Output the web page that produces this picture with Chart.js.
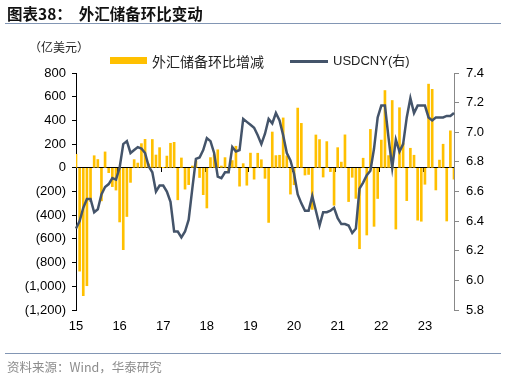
<!DOCTYPE html>
<html>
<head>
<meta charset="utf-8">
<script src="https://cdn.jsdelivr.net/npm/chart.js@4.4.0/dist/chart.umd.min.js"></script>
<style>
  body { margin:0; width:506px; height:377px; overflow:hidden; background:#fff; position:relative; font-family:"Noto Sans CJK SC","Liberation Sans",sans-serif; }
  #c { position:absolute; left:0; top:0; }
  .title { position:absolute; left:7px; top:2px; font-size:15.5px; font-weight:bold; color:#111; white-space:nowrap; }
  .rule { position:absolute; left:5px; width:496px; height:1px; background:#8296b4; }
  .unit { position:absolute; left:29px; top:38px; font-size:12px; color:#222; }
  .leg { position:absolute; top:52px; font-size:14px; color:#222; white-space:nowrap; line-height:18px; }
  .sw { position:absolute; }
  .src { position:absolute; left:7px; top:357px; font-size:12.5px; color:#8c8c8c; white-space:nowrap; }
</style>
</head>
<body>
<canvas id="c" width="506" height="377"></canvas>
<div class="title">图表38：&nbsp;&nbsp;外汇储备环比变动</div>
<div class="rule" style="top:23px"></div>
<div class="unit">（亿美元）</div>
<div class="sw" style="left:110px;top:57px;width:37px;height:7px;background:#ffc000"></div>
<div class="leg" style="left:152px">外汇储备环比增减</div>
<div class="sw" style="left:290px;top:60px;width:38px;height:3px;background:#44546a"></div>
<div class="leg" style="left:333px;font-size:13px;font-family:'Liberation Sans','Noto Sans CJK SC',sans-serif">USDCNY(右)</div>
<div class="rule" style="top:353px"></div>
<div class="src">资料来源：Wind，华泰研究</div>
<script>
// monthly, Oct 2015 .. Jun 2024
var startYear = 2015, startMonth = 10, nMonths = 105;
var months = [];
for (var k = 0; k < nMonths; k++) {
  var m = startMonth - 1 + k;
  months.push((startYear + Math.floor(m / 12)) + '-' + String(m % 12 + 1).padStart(2, '0'));
}
var yearTicks = ['15','16','17','18','19','20','21','22','23'];

// 外汇储备环比增减（亿美元）
var reserveChange = [
  114, -872, -1079, -995, -286, 102, 70, -279, 134, -41, -159, -188,
  -457, -691, -411, -123, 69, 40, 204, 240, 32, 239, 108, 170,
  1, 99, 207, 215, -270, 83, -180, -142, 15, 58, -82, -227,
  -339, 86, 110, 152, 15, 86, -38, 61, 182, -155, 35, -147,
  124, -96, 123, 68, -89, -461, 302, 103, 106, 421, 101, -222,
  -143, 504, 375, -61, -56, -351, 277, 238, -78, 221, -32, -316,
  170, 48, 278, -285, -80, -258, -683, 81, -567, 324, -494, -259,
  234, 652, 103, 568, -517, 507, 209, -277, 165, 106, -442, -451,
  -139, 706, 662, -187, 65, 199, -449, 312, -96
];
// USDCNY（右轴）
var usdcny = [
  6.35, 6.40, 6.49, 6.55, 6.55, 6.46, 6.48, 6.58, 6.63, 6.65, 6.69, 6.68,
  6.76, 6.92, 6.94, 6.86, 6.88, 6.90, 6.89, 6.86, 6.77, 6.73, 6.60, 6.64,
  6.64, 6.60, 6.53, 6.33, 6.33, 6.29, 6.33, 6.41, 6.62, 6.82, 6.83, 6.88,
  6.96, 6.94, 6.86, 6.70, 6.69, 6.73, 6.73, 6.90, 6.87, 6.88, 7.09, 7.07,
  7.05, 7.03, 6.98, 6.92, 6.99, 7.09, 7.06, 7.13, 7.08, 6.98, 6.86, 6.81,
  6.72, 6.58, 6.52, 6.47, 6.47, 6.57, 6.47, 6.37, 6.46, 6.46, 6.47, 6.49,
  6.42, 6.38, 6.38, 6.37, 6.32, 6.35, 6.62, 6.66, 6.71, 6.74, 6.89, 7.10,
  7.18, 7.18, 6.96, 6.76, 6.95, 6.87, 6.92, 7.10, 7.23, 7.13, 7.18, 7.18,
  7.18, 7.10, 7.08, 7.10, 7.10, 7.10, 7.11, 7.11, 7.13
];

function fmtLeft(v) {
  var s = Math.abs(v).toLocaleString('en-US');
  return v < 0 ? '(' + s + ')' : s;
}
var tickFont = { family: 'Liberation Sans', size: 13 };

new Chart(document.getElementById('c'), {
  data: {
    labels: months,
    datasets: [
      { type: 'line', label: 'USDCNY(右)', data: usdcny, yAxisID: 'y1', xAxisID: 'x',
        borderColor: '#44546a', borderWidth: 2.5, pointRadius: 0, tension: 0, order: 0 },
      { type: 'bar', label: '外汇储备环比增减', data: reserveChange, yAxisID: 'y', xAxisID: 'x',
        backgroundColor: '#ffc000', barThickness: 2, order: 1 }
    ]
  },
  options: {
    responsive: false,
    animation: false,
    layout: { padding: { top: 73, left: 0, right: 0, bottom: 0 } },
    plugins: { legend: { display: false }, tooltip: { enabled: false } },
    scales: {
      x: {
        type: 'category', position: 'bottom', offset: false,
        grid: { display: false, drawTicks: false },
        border: { display: false },
        ticks: { autoSkip: false, maxRotation: 0, minRotation: 0, padding: 9, color: '#000', font: tickFont,
          callback: function(v, i) { return i % 12 === 0 ? (yearTicks[i / 12] || '') : ''; } },
        afterFit: function(s) { s.height = 67; }
      },
      x2: {
        type: 'category', position: { y: 0 }, offset: false,
        grid: { offset: true, drawOnChartArea: false, tickLength: 4,
          color: function(c) { return (c.index > 0 && c.index % 12 === 0) ? '#000' : 'rgba(0,0,0,0)'; } },
        border: { display: true, color: '#000', width: 1 },
        ticks: { display: false }
      },
      y: {
        position: 'left', min: -1200, max: 800,
        ticks: { stepSize: 200, color: '#000', font: tickFont, padding: 6, callback: fmtLeft },
        grid: { drawOnChartArea: false, tickLength: 4, color: '#000' },
        border: { color: '#000', width: 1 },
        afterFit: function(s) { s.width = 76; }
      },
      y1: {
        position: 'right', min: 5.8, max: 7.4,
        ticks: { stepSize: 0.2, color: '#000', font: tickFont, padding: 7,
          callback: function(v) { return Number(v).toFixed(1); } },
        grid: { drawOnChartArea: false, tickLength: 5, color: '#888' },
        border: { color: '#888', width: 1 },
        afterFit: function(s) { s.width = 52; }
      }
    }
  }
});
</script>
</body>
</html>
